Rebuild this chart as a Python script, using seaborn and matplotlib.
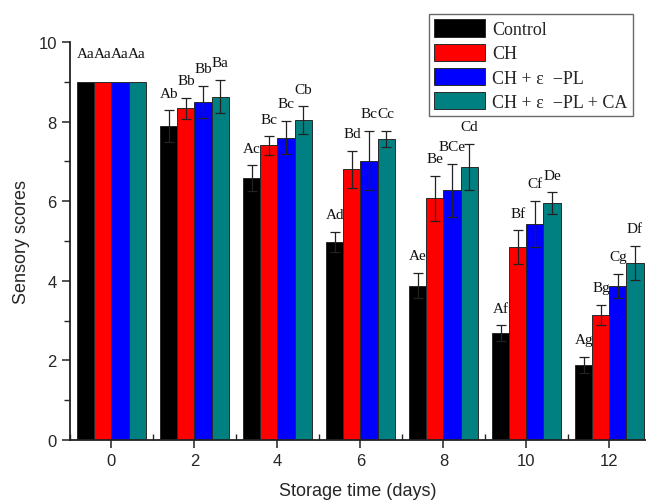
import matplotlib

matplotlib.use("Agg")
import matplotlib.pyplot as plt  # noqa: E402
from matplotlib.ticker import FixedLocator, MultipleLocator  # noqa: E402
import numpy as np  # noqa: E402
import pandas as pd  # noqa: E402
import seaborn as sns  # noqa: E402

# dados
dias = ["0", "2", "4", "6", "8", "10", "12"]
tratamentos = ["Control", "CH", "CH + \u03b5  \u2212PL", "CH + \u03b5  \u2212PL + CA"]
cores = ["#000000", "#ff0000", "#0000ff", "#008080"]

media_control = [9.0, 7.88, 6.58, 4.97, 3.88, 2.68, 1.88]
media_ch = [9.0, 8.33, 7.40, 6.80, 6.07, 4.85, 3.15]
media_chpl = [9.0, 8.50, 7.60, 7.02, 6.27, 5.42, 3.88]
media_chplca = [9.0, 8.63, 8.03, 7.57, 6.86, 5.95, 4.45]

dp_control = [0.0, 0.40, 0.32, 0.25, 0.32, 0.20, 0.20]
dp_ch = [0.0, 0.27, 0.23, 0.47, 0.56, 0.42, 0.25]
dp_chpl = [0.0, 0.40, 0.42, 0.75, 0.67, 0.58, 0.30]
dp_chplca = [0.0, 0.42, 0.35, 0.20, 0.58, 0.27, 0.42]

letras_control = ["Aa", "Ab", "Ac", "Ad", "Ae", "Af", "Ag"]
letras_ch = ["Aa", "Bb", "Bc", "Bd", "Be", "Bf", "Bg"]
letras_chpl = ["Aa", "Bb", "Bc", "Bc", "BCe", "Cf", "Cg"]
letras_chplca = ["Aa", "Ba", "Cb", "Cc", "Cd", "De", "Df"]

medias = [media_control, media_ch, media_chpl, media_chplca]
desvios = [dp_control, dp_ch, dp_chpl, dp_chplca]
letras = [letras_control, letras_ch, letras_chpl, letras_chplca]

linhas = []
for t, m in zip(tratamentos, medias):
    for d, v in zip(dias, m):
        linhas.append({"dia": d, "tratamento": t, "score": v})
df = pd.DataFrame(linhas)

sns.set_style("ticks")
plt.rcParams["font.family"] = ["Liberation Sans", "DejaVu Sans"]

fig = plt.figure(figsize=(6.46, 5.02), dpi=100)
ax = fig.add_axes([70 / 646, 61 / 502, 576 / 646, 398 / 502])

sns.barplot(
    data=df,
    x="dia",
    y="score",
    hue="tratamento",
    order=dias,
    hue_order=tratamentos,
    palette=cores,
    width=0.82,
    errorbar=None,
    edgecolor="#2a2a2a",
    linewidth=0.7,
    saturation=1,
    ax=ax,
)

serif = ["Liberation Serif", "DejaVu Serif"]
for cont, m, s, lt in zip(ax.containers, medias, desvios, letras):
    xs = np.array([b.get_x() + b.get_width() / 2 for b in cont])
    m = np.array(m)
    s = np.array(s)
    com_erro = s > 0
    ax.errorbar(
        xs[com_erro], m[com_erro], yerr=s[com_erro], fmt="none",
        ecolor="#222222", elinewidth=0.9, capsize=3.5, capthick=0.9,
    )
    for x, topo, sd, txt in zip(xs, m + s, s, lt):
        folga = 0.55 if sd == 0 else 0.27
        ax.text(x, topo + folga, txt, ha="center", va="bottom",
                fontsize=11, family=serif, color="#111111")

ax.set_ylim(0, 10)
ax.set_xlim(-0.5, 6.44)
ax.yaxis.set_major_locator(MultipleLocator(2))
ax.yaxis.set_minor_locator(MultipleLocator(1))
ax.xaxis.set_minor_locator(FixedLocator(np.arange(-0.5, 7, 1)))
ax.tick_params(axis="both", which="major", direction="out", length=6,
               width=1.1, labelsize=12, color="#222222")
ax.tick_params(axis="y", which="minor", direction="out", length=4, width=1.0)
ax.tick_params(axis="x", which="minor", direction="in", length=4, width=1.0)
for lado in ["left", "bottom"]:
    ax.spines[lado].set_linewidth(1.3)
    ax.spines[lado].set_color("#222222")
sns.despine(ax=ax)

ax.set_xlabel("Storage time (days)", fontsize=13, labelpad=10)
ax.set_ylabel("Sensory scores", fontsize=13, labelpad=6)

handles, labels = ax.get_legend_handles_labels()
ax.get_legend().remove()
leg = fig.legend(
    handles, labels,
    loc="upper right", bbox_to_anchor=(633 / 646, 1 - 15 / 502),
    prop={"family": serif, "size": 13},
    frameon=True, fancybox=False, edgecolor="#444444",
    handlelength=2.8, handleheight=1.1, handletextpad=0.4,
    labelspacing=0.3, borderpad=0.3, borderaxespad=0,
)
leg.get_frame().set_linewidth(1.0)

fig.savefig("out.png", dpi=100)
